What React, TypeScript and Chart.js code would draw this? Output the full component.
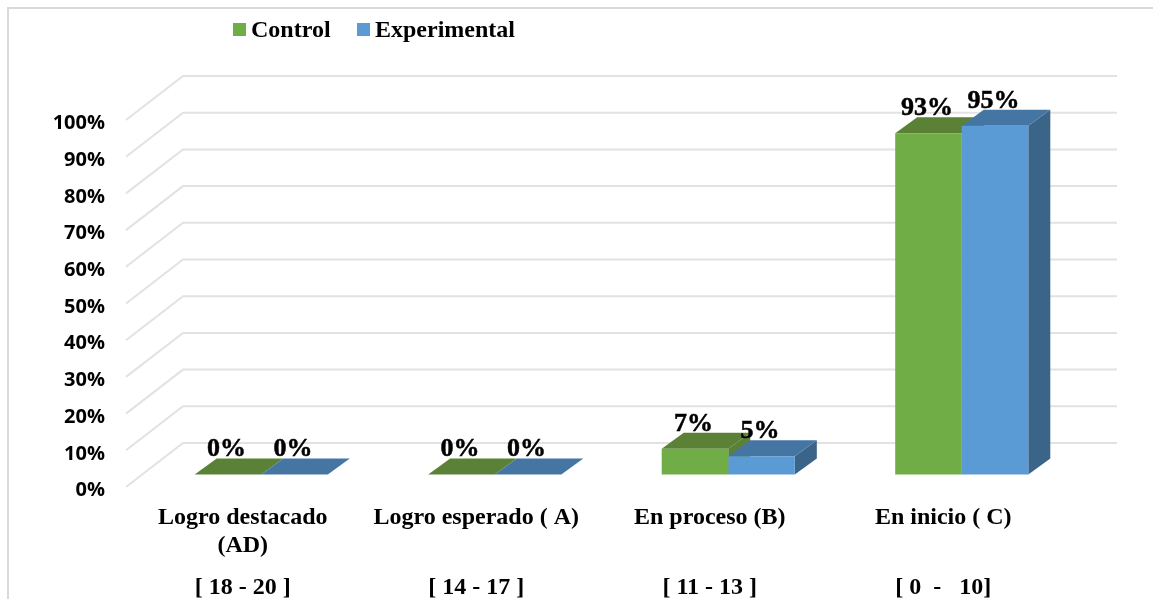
import React, { useEffect, useRef } from "react";
import { Chart, registerables } from "chart.js";

Chart.register(...registerables);

const categoryNames = ["Logro destacado", "Logro esperado ( A)", "En proceso (B)", "En inicio ( C)"];
const categorySecondLines = ["(AD)", "", "", ""];
const categoryRanges = ["[ 18 - 20 ]", "[ 14 - 17 ]", "[ 11 - 13 ]", "[ 0  -   10]"];
const controlValues = [0, 0, 7, 93];
const experimentalValues = [0, 0, 5, 95];
const seriesNames = ["Control", "Experimental"];
const frontColors = ["#70ad47", "#5b9bd5"];
const topColors = ["#5a8136", "#4576a3"];
const sideColors = ["#5a8136", "#3a6488"];

const SERIF = '"Liberation Serif", "Times New Roman", serif';
const WALL_DX = 57;
const WALL_DY = 44;
const BAR_SHIFT_X = 18.5;
const BAR_SHIFT_Y = -12.5;
const BAR_DX = 22;
const BAR_DY = 16;

const depthPlugin = {
  id: "depth3d",
  beforeDatasetsDraw(chart: any) {
    const { ctx, chartArea, scales } = chart;
    const y = scales.y;
    ctx.save();
    ctx.strokeStyle = "#e2e2e2";
    ctx.lineWidth = 2;
    y.ticks.forEach((t: any) => {
      const py = y.getPixelForValue(t.value);
      ctx.beginPath();
      ctx.moveTo(chartArea.left, py);
      ctx.lineTo(chartArea.left + WALL_DX, py - WALL_DY);
      ctx.lineTo(chartArea.right + WALL_DX, py - WALL_DY);
      ctx.stroke();
    });
    ctx.restore();

    ctx.save();
    ctx.translate(BAR_SHIFT_X, BAR_SHIFT_Y);
    chart.data.datasets.forEach((_: any, i: number) => {
      chart.getDatasetMeta(i).data.forEach((bar: any) => {
        const p = bar.getProps(["x", "y", "base", "width"], true);
        const l = p.x - p.width / 2;
        const r = p.x + p.width / 2;
        ctx.fillStyle = sideColors[i];
        ctx.beginPath();
        ctx.moveTo(r, p.y);
        ctx.lineTo(r + BAR_DX, p.y - BAR_DY);
        ctx.lineTo(r + BAR_DX, p.base - BAR_DY);
        ctx.lineTo(r, p.base);
        ctx.closePath();
        ctx.fill();
        ctx.fillStyle = topColors[i];
        ctx.beginPath();
        ctx.moveTo(l, p.y);
        ctx.lineTo(l + BAR_DX, p.y - BAR_DY);
        ctx.lineTo(r + BAR_DX, p.y - BAR_DY);
        ctx.lineTo(r, p.y);
        ctx.closePath();
        ctx.fill();
      });
    });
  },
  afterDatasetsDraw(chart: any) {
    const { ctx } = chart;
    ctx.restore();

    ctx.save();
    ctx.fillStyle = "#000";
    ctx.strokeStyle = "#000";
    ctx.lineWidth = 0.5;
    ctx.font = `bold 26px ${SERIF}`;
    ctx.textAlign = "center";
    ctx.textBaseline = "middle";
    chart.data.datasets.forEach((ds: any, i: number) => {
      chart.getDatasetMeta(i).data.forEach((bar: any, j: number) => {
        const p = bar.getProps(["x", "y"], true);
        const tx = p.x + BAR_SHIFT_X - 1.5;
        const ty = p.y + BAR_SHIFT_Y - 25;
        ctx.fillText(`${ds.data[j]}%`, tx, ty);
        ctx.strokeText(`${ds.data[j]}%`, tx, ty);
      });
    });
    ctx.restore();

    // legend
    ctx.save();
    ctx.font = `bold 24px ${SERIF}`;
    ctx.textBaseline = "middle";
    const boxX = [233, 357];
    chart.data.datasets.forEach((ds: any, i: number) => {
      ctx.fillStyle = frontColors[i];
      ctx.fillRect(boxX[i], 23, 13, 13);
      ctx.fillStyle = "#000";
      ctx.fillText(ds.label, boxX[i] + 18, 31);
    });
    ctx.restore();
  },
};

export default function App() {
  const ref = useRef<HTMLCanvasElement>(null);

  useEffect(() => {
    document.body.style.margin = "0";
    const chart = new Chart(ref.current as HTMLCanvasElement, {
      type: "bar",
      data: {
        labels: categoryNames.map((n, i) => [n, "", categorySecondLines[i], "", "", categoryRanges[i]]),
        datasets: [
          { label: seriesNames[0], data: controlValues, backgroundColor: frontColors[0], clip: false as any },
          { label: seriesNames[1], data: experimentalValues, backgroundColor: frontColors[1], clip: false as any },
        ],
      },
      options: {
        animation: false,
        responsive: false,
        maintainAspectRatio: false,
        layout: { padding: { left: 0, right: 93, top: 120, bottom: 0 } },
        plugins: { legend: { display: false }, tooltip: { enabled: false } },
        datasets: { bar: { barPercentage: 1, categoryPercentage: 0.57 } },
        scales: {
          x: {
            grid: { display: false },
            border: { display: false },
            afterFit: (s: any) => { s.height = 112; },
            ticks: {
              autoSkip: false,
              maxRotation: 0,
              padding: 16,
              color: "#000",
              font: { family: SERIF, weight: "bold", size: 24, lineHeight: "14px" },
            },
          },
          y: {
            min: 0,
            max: 100,
            grid: { display: false, drawTicks: false },
            border: { display: false },
            afterFit: (s: any) => { s.width = 126; },
            ticks: {
              stepSize: 10,
              padding: 21,
              color: "#000",
              font: { family: "Open Sans", weight: "bold", size: 20, lineHeight: "7px" },
              callback: (v: any) => ["", `${v}%`],
            },
          },
        },
      },
      plugins: [depthPlugin],
    } as any);
    return () => chart.destroy();
  }, []);

  return (
    <div style={{ position: "fixed", left: 0, top: 0, width: 1153, height: 599, overflow: "hidden", background: "#fff" }}>
      <canvas ref={ref} width={1153} height={599} style={{ position: "absolute", left: 0, top: 0, display: "block" }} />
      <div style={{ position: "absolute", left: 7, top: 7, width: 1146, height: 592, borderLeft: "2px solid #d9d9d9", borderTop: "2px solid #d9d9d9", boxSizing: "border-box" }} />
    </div>
  );
}
